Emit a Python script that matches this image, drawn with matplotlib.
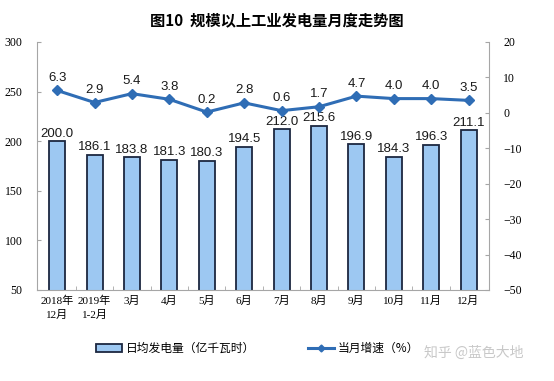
import matplotlib
matplotlib.use("Agg")
import matplotlib.pyplot as plt
from matplotlib.lines import Line2D
from matplotlib.patches import Patch

plt.rcParams['font.family'] = ['Noto Sans CJK SC', 'DejaVu Sans']

categories = ['2018年\n12月', '2019年\n1-2月', '3月', '4月', '5月', '6月', '7月', '8月', '9月', '10月', '11月', '12月']
daily_output = [200.0, 186.1, 183.8, 181.3, 180.3, 194.5, 212.0, 215.6, 196.9, 184.3, 196.3, 211.1]
growth = [6.3, 2.9, 5.4, 3.8, 0.2, 2.8, 0.6, 1.7, 4.7, 4.0, 4.0, 3.5]
left_ticks = [50, 100, 150, 200, 250, 300]
right_ticks = [-50, -40, -30, -20, -10, 0, 10, 20]

bar_face = '#9DC8F2'
bar_edge = '#1C2740'
line_color = '#2F6DB5'
spine_color = '#A6A6A6'
tick_font = ['Liberation Serif', 'Noto Sans CJK SC']
label_font = ['Liberation Sans', 'DejaVu Sans']

fig = plt.figure(figsize=(5.54, 3.81), dpi=100)
ax = fig.add_axes([0.066, 0.239, 0.817, 0.651])
x = list(range(len(categories)))
ax.bar(x, daily_output, width=0.43, color=bar_face, edgecolor=bar_edge, linewidth=1.3, zorder=2)
for xi, v in zip(x, daily_output):
    ax.text(xi, v + 1.5, f'{v:.1f}', ha='center', va='bottom', fontsize=9.5,
            family=label_font, color='#1a1a1a')
ax.set_ylim(50, 300)
ax.set_xlim(-0.55, len(categories) - 0.45)
ax.set_yticks(left_ticks)
ax.set_xticks(x)
ax.set_xticklabels(categories, fontsize=8, family=tick_font, linespacing=1.5)
ax.tick_params(axis='x', length=0, pad=4)
ax.tick_params(axis='y', direction='in', length=3, color=spine_color, labelsize=8.5, pad=10)
for lab in ax.get_yticklabels():
    lab.set_family(tick_font)
for s in ['top', 'right']:
    ax.spines[s].set_visible(False)
for s in ['left', 'bottom']:
    ax.spines[s].set_color(spine_color)
ax.set_xticks([i - 0.5 for i in range(1, len(categories))], minor=True)
ax.tick_params(axis='x', which='minor', length=3, color=spine_color, direction='in')

ax2 = ax.twinx()
ax2.plot(x, growth, color=line_color, linewidth=2.2, marker='D', markersize=5, zorder=3)
for xi, v in zip(x, growth):
    ax2.text(xi, v + 1.8, f'{v:.1f}', ha='center', va='bottom', fontsize=9.5,
             family=label_font, color='#1a1a1a')
ax2.set_ylim(-50, 20)
ax2.set_yticks(right_ticks)
ax2.tick_params(axis='y', direction='in', length=3, color=spine_color, labelsize=8.5, pad=10)
for lab in ax2.get_yticklabels():
    lab.set_family(tick_font)
for s in ['top', 'left', 'bottom']:
    ax2.spines[s].set_visible(False)
ax2.spines['right'].set_color(spine_color)

fig.text(0.5, 0.945, '图10  规模以上工业发电量月度走势图', ha='center', va='center',
         fontsize=11, fontweight='bold')

handles = [Patch(facecolor=bar_face, edgecolor=bar_edge, linewidth=1.3),
           Line2D([0], [0], color=line_color, linewidth=2.2, marker='D', markersize=3.5)]
labels = ['日均发电量（亿千瓦时）', '当月增速（%）']
fig.legend(handles, labels, loc='center', bbox_to_anchor=(0.465, 0.085), ncol=2,
           frameon=False, fontsize=8.5, columnspacing=4.5, handlelength=2.2,
           handleheight=0.7, handletextpad=0.3)

fig.text(0.855, 0.075, '知乎 @蓝色大地', ha='center', va='center', fontsize=10,
         color='#C8C8C8')

fig.savefig('out.png', dpi=100)
